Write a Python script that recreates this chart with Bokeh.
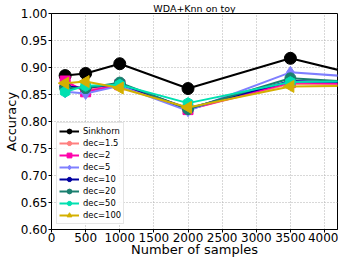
import numpy as np
from bokeh.plotting import figure
from bokeh.models import Range1d, FixedTicker, PrintfTickFormatter, Legend, LegendItem
from bokeh.embed import file_html
from bokeh.resources import INLINE

samples = [200, 500, 1000, 2000, 3500, 5000]
sinkhorn = [0.885, 0.889, 0.907, 0.861, 0.917, 0.871]
dec_1_5 = [0.872, 0.858, 0.868, 0.822, 0.870, 0.866]
dec_2 = [0.875, 0.855, 0.868, 0.822, 0.872, 0.868]
dec_5 = [0.855, 0.852, 0.866, 0.820, 0.891, 0.878]
dec_10 = [0.865, 0.862, 0.870, 0.824, 0.875, 0.871]
dec_20 = [0.862, 0.862, 0.872, 0.823, 0.880, 0.869]
dec_50 = [0.855, 0.866, 0.868, 0.834, 0.873, 0.875]
dec_100 = [0.871, 0.874, 0.862, 0.826, 0.865, 0.867]

series = [
    ("Sinkhorn", sinkhorn, "black", "circle", 12, 0),
    ("dec=1.5", dec_1_5, "#ff7f7f", "hex", 11, np.pi / 2),
    ("dec=2", dec_2, "#ff00aa", "square", 10, 0),
    ("dec=5", dec_5, "#7f7fff", "diamond", 12, 0),
    ("dec=10", dec_10, "#0000a0", "hex", 11, 0),
    ("dec=20", dec_20, "#1a7f6f", "circle", 11, 0),
    ("dec=50", dec_50, "#00e0b0", "hex", 11, np.pi / 2),
    ("dec=100", dec_100, "#d4b000", "triangle", 12, np.pi / 2),
]

p = figure(width=338, height=259, output_backend="svg", toolbar_location=None,
           x_range=Range1d(0, 4190), y_range=Range1d(0.6, 1.0),
           min_border_left=44, min_border_right=1, min_border_top=0, min_border_bottom=0)

p.title.text = "WDA+Knn on toy"
p.title.align = "center"
p.title.text_font = "DejaVu Sans"
p.title.text_font_size = "9.5px"
p.title.text_font_style = "normal"
p.title.text_color = "black"
p.title.offset = 0
p.title.standoff = 0

p.outline_line_color = "black"
p.outline_line_width = 1

for ax in (p.xaxis, p.yaxis):
    ax.major_label_text_font = "DejaVu Sans"
    ax.major_label_text_font_size = "12px"
    ax.major_label_text_color = "black"
    ax.axis_label_text_font = "DejaVu Sans"
    ax.axis_label_text_font_size = "13px"
    ax.axis_label_text_font_style = "normal"
    ax.axis_label_text_color = "black"
    ax.axis_line_color = "black"
    ax.major_tick_line_color = "black"
    ax.minor_tick_line_color = None
    ax.major_tick_out = 3
    ax.major_tick_in = 0

p.yaxis.axis_label_standoff = -1
p.yaxis.major_label_standoff = 1
p.xaxis.axis_label_standoff = -3
p.xaxis.major_label_standoff = 0

p.xaxis.axis_label = "Number of samples"
p.yaxis.axis_label = "Accuracy"
p.xaxis.ticker = FixedTicker(ticks=[0, 500, 1000, 1500, 2000, 2500, 3000, 3500, 4000])
p.yaxis.ticker = FixedTicker(ticks=[0.6, 0.65, 0.7, 0.75, 0.8, 0.85, 0.9, 0.95, 1.0])
p.yaxis.formatter = PrintfTickFormatter(format="%.2f")

p.xgrid.grid_line_color = "#b0b0b0"
p.ygrid.grid_line_color = "#b0b0b0"
p.xgrid.grid_line_dash = "1 2"
p.ygrid.grid_line_dash = "1 2"
p.xgrid.grid_line_width = 1
p.ygrid.grid_line_width = 1

items = []
for name, vals, color, marker, size, ang in series:
    r1 = p.line(samples, vals, line_color=color, line_width=2)
    r2 = p.scatter(samples, vals, marker=marker, size=size, angle=ang,
                   fill_color=color, line_color=color)
    items.append(LegendItem(label=name, renderers=[r1, r2]))

legend = Legend(items=items, location="bottom_left")
legend.label_text_font = "DejaVu Sans"
legend.label_text_font_size = "8.4px"
legend.label_text_color = "black"
legend.label_height = 12
legend.glyph_height = 12
legend.glyph_width = 20
legend.spacing = 0
legend.padding = 2
legend.margin = 5
legend.label_standoff = 4
legend.border_line_color = "#cccccc"
legend.background_fill_alpha = 0.9
p.add_layout(legend)

open("out.html", "w").write(file_html(p, INLINE))
